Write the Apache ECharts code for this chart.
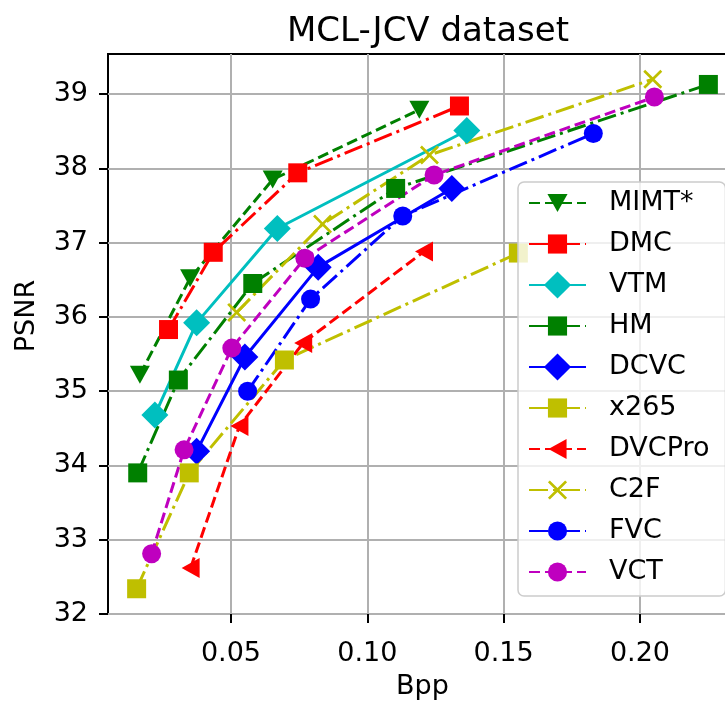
<!DOCTYPE html>
<html>
<head>
<meta charset="utf-8">
<script src="https://cdn.jsdelivr.net/npm/echarts@6/dist/echarts.min.js"></script>
<style>
  html, body { margin: 0; padding: 0; background: #fff; }
  #chart { width: 725px; height: 701px; }
</style>
</head>
<body>
<div id="chart"></div>
<script>
// 各方法的 [Bpp, PSNR] 点
const seriesNames = ['MIMT*', 'DMC', 'VTM', 'HM', 'DCVC', 'x265', 'DVCPro', 'C2F', 'FVC', 'VCT']
const mimt = [[0.0166, 35.22], [0.0350, 36.52], [0.0653, 37.85], [0.1191, 38.79]]
const dmc = [[0.0271, 35.83], [0.0435, 36.87], [0.0745, 37.94], [0.1338, 38.84]]
const vtm = [[0.0221, 34.68], [0.0374, 35.92], [0.0670, 37.19], [0.1365, 38.51]]
const hm = [[0.0158, 33.90], [0.0307, 35.15], [0.0580, 36.45], [0.1104, 37.73], [0.2251, 39.13]]
const dcvc = [[0.0374, 34.19], [0.0551, 35.46], [0.0820, 36.67], [0.1310, 37.73]]
const x265 = [[0.0154, 32.34], [0.0347, 33.90], [0.0696, 35.42], [0.1554, 36.86]]
const dvcpro = [[0.0352, 32.62], [0.0531, 34.53], [0.0765, 35.65], [0.1208, 36.88]]
const c2f = [[0.0521, 36.06], [0.0836, 37.25], [0.1228, 38.18], [0.2047, 39.20]]
const fvc = [[0.0561, 35.00], [0.0792, 36.24], [0.1130, 37.36], [0.1829, 38.47]]
const vct = [[0.0209, 32.81], [0.0328, 34.21], [0.0503, 35.58], [0.0771, 36.79], [0.1245, 37.91], [0.2053, 38.96]]
const xTicks = [0.05, 0.10, 0.15, 0.20]
const yTicks = [32, 33, 34, 35, 36, 37, 38, 39]

const FONT = 'DejaVu Sans'
const DASH = [11, 5]
const DASHDOT = [19, 5, 3, 5]
// 标记都放在 27x27 的框里，这样图例里菱形和方块的大小比例跟 matplotlib 一样
const BOX = 'M0,0M27,27'
const SQUARE = 'path://' + BOX + 'M4,4L23,4L23,23L4,23Z'
const CIRCLE = 'path://' + BOX + 'M4,13.5A9.5,9.5,0,1,1,23,13.5A9.5,9.5,0,1,1,4,13.5Z'
const TRI_DOWN = 'path://' + BOX + 'M3.5,4.5L23.5,4.5L13.5,22.5Z'
const TRI_LEFT = 'path://' + BOX + 'M4.5,13.5L22.5,3.5L22.5,23.5Z'
const CROSS = 'path://' + BOX + 'M4,5.9L5.9,4L13.5,11.6L21.1,4L23,5.9L15.4,13.5L23,21.1L21.1,23L13.5,15.4L5.9,23L4,21.1L11.6,13.5Z'

// 每条线：数据、颜色、线型、标记
const styles = [
  { data: mimt, color: '#008000', dash: DASH, symbol: TRI_DOWN },
  { data: dmc, color: '#ff0000', dash: DASHDOT, symbol: SQUARE },
  { data: vtm, color: '#00bfbf', dash: 'solid', symbol: 'diamond' },
  { data: hm, color: '#008000', dash: DASHDOT, symbol: SQUARE },
  { data: dcvc, color: '#0000ff', dash: 'solid', symbol: 'diamond' },
  { data: x265, color: '#bfbf00', dash: DASHDOT, symbol: SQUARE },
  { data: dvcpro, color: '#ff0000', dash: DASH, symbol: TRI_LEFT },
  { data: c2f, color: '#bfbf00', dash: DASHDOT, symbol: CROSS },
  { data: fvc, color: '#0000ff', dash: DASHDOT, symbol: CIRCLE },
  { data: vct, color: '#bf00bf', dash: DASH, symbol: CIRCLE }
]

const series = styles.map((s, i) => ({
  name: seriesNames[i],
  type: 'line',
  data: s.data,
  symbol: s.symbol,
  symbolSize: 27,
  showAllSymbol: true,
  animation: false,
  color: s.color,
  lineStyle: { color: s.color, width: 3, type: s.dash, cap: 'butt' },
  itemStyle: { color: s.color, borderWidth: 0 }
}))

const chart = echarts.init(document.getElementById('chart'), null, { renderer: 'canvas' })
chart.setOption({
  animation: false,
  textStyle: { fontFamily: FONT },
  title: {
    text: 'MCL-JCV dataset',
    left: 423,
    textAlign: 'center',
    top: 10,
    textStyle: { fontFamily: FONT, fontSize: 34, fontWeight: 'normal', color: '#000' }
  },
  grid: {
    left: 108, top: 54, bottom: 87, right: -12,
    outerBoundsMode: 'none',
    containLabel: false,
    show: true, borderColor: '#000', borderWidth: 2, backgroundColor: 'transparent'
  },
  legend: {
    orient: 'vertical',
    left: 518,
    top: 182,
    padding: [6, 16, 9, 10],
    itemWidth: 57,
    itemHeight: 34,
    itemGap: 11,
    backgroundColor: 'rgba(255,255,255,0.8)',
    borderColor: '#cccccc',
    borderWidth: 1.5,
    borderRadius: 6,
    textStyle: { fontFamily: FONT, fontSize: 27, color: '#000', lineHeight: 30, padding: [0, 0, 0, 18] },
    data: seriesNames
  },
  graphic: [{
    type: 'text',
    x: 27,
    y: 316,
    rotation: Math.PI / 2,
    style: { text: 'PSNR', fontFamily: FONT, fontSize: 27, fill: '#000', align: 'center', verticalAlign: 'middle' }
  }],
  xAxis: {
    type: 'value',
    min: 0.0049,
    max: 0.2356,
    name: 'Bpp',
    nameLocation: 'middle',
    nameGap: 59,
    nameTextStyle: { fontFamily: FONT, fontSize: 27, color: '#000' },
    axisLine: { show: false },
    axisTick: { show: true, length: 9, lineStyle: { color: '#000', width: 2 }, customValues: xTicks },
    axisLabel: {
      fontFamily: FONT, fontSize: 27, color: '#000', margin: 26,
      customValues: xTicks,
      formatter: v => v.toFixed(2)
    },
    splitLine: { show: true, lineStyle: { color: '#b0b0b0', width: 2 } }
  },
  yAxis: {
    type: 'value',
    min: 32,
    max: 39.54,
    axisLine: { show: false },
    axisTick: { show: true, length: 9, lineStyle: { color: '#000', width: 2 }, customValues: yTicks },
    axisLabel: { fontFamily: FONT, fontSize: 27, color: '#000', margin: 20, customValues: yTicks },
    splitLine: { show: true, lineStyle: { color: '#b0b0b0', width: 2 } }
  },
  series: series
})
</script>
</body>
</html>
